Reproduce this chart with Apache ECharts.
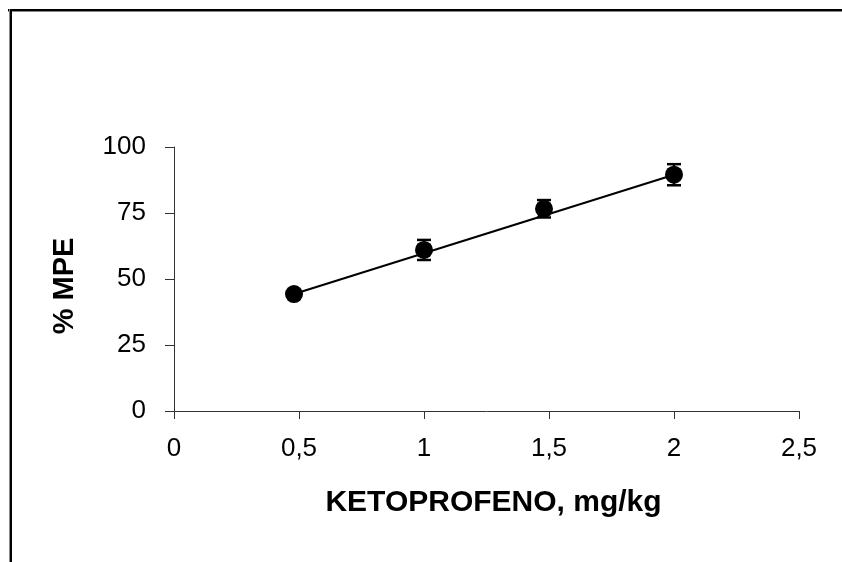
<!DOCTYPE html>
<html>
<head>
<meta charset="utf-8">
<script src="https://cdn.jsdelivr.net/npm/echarts@6/dist/echarts.min.js"></script>
<style>
  html, body { margin: 0; padding: 0; background: #fff; }
  #chart { width: 842px; height: 562px; }
</style>
</head>
<body>
<div id="chart"></div>
<script>
// dose (mg/kg) vs % MPE, mean +/- error
var doses = [0.48, 1, 1.48, 2];
var mpe = [44.3, 61, 76.6, 89.5];
var errs = [0, 3.8, 3.3, 4];
// straight fit line, end points
var fitX = [0.48, 2];
var fitY = [44.3, 89.5];
var xTicks = ['0', '0,5', '1', '1,5', '2', '2,5'];
var yTicks = ['0', '25', '50', '75', '100'];

var font = 'Liberation Sans, Arial, sans-serif';

var chart = echarts.init(document.getElementById('chart'));

var points = doses.map(function (d, i) { return [d, mpe[i]]; });
var fit = fitX.map(function (d, i) { return [d, fitY[i]]; });
var bars = doses.map(function (d, i) { return [d, mpe[i] - errs[i], mpe[i] + errs[i]]; });

var option = {
    backgroundColor: '#fff',
    animation: false,
    grid: { left: 174, right: 43, top: 147, bottom: 151 },
    xAxis: {
        type: 'value',
        min: 0,
        max: 2.5,
        interval: 0.5,
        name: 'KETOPROFENO, mg/kg',
        nameLocation: 'middle',
        nameGap: 77,
        nameTextStyle: { fontFamily: font, fontSize: 30, fontWeight: 'bold', color: '#000', padding: [0, 0, 0, 14] },
        axisLine: { onZero: false, lineStyle: { color: '#333', width: 1 } },
        axisTick: { show: true, length: 8, inside: false, lineStyle: { color: '#333' } },
        axisLabel: {
            margin: 25,
            fontFamily: font,
            fontSize: 26,
            color: '#000',
            formatter: function (v) { return xTicks[Math.round(v / 0.5)]; }
        },
        splitLine: { show: false }
    },
    yAxis: {
        type: 'value',
        min: 0,
        max: 100,
        interval: 25,
        name: '% MPE',
        nameLocation: 'middle',
        nameGap: 95,
        nameTextStyle: { fontFamily: font, fontSize: 29, fontWeight: 'bold', color: '#000', padding: [0, 14, 0, 0] },
        axisLine: { show: true, lineStyle: { color: '#333', width: 1 } },
        axisTick: { show: true, length: 9, inside: false, lineStyle: { color: '#333' } },
        axisLabel: {
            margin: 28,
            fontFamily: font,
            fontSize: 26,
            color: '#000',
            formatter: function (v) { return yTicks[Math.round(v / 25)]; }
        },
        splitLine: { show: false }
    },
    series: [
        {
            type: 'line',
            data: fit,
            symbol: 'none',
            lineStyle: { color: '#000', width: 2 },
            z: 2
        },
        {
            type: 'custom',
            data: bars,
            renderItem: function (params, api) {
                var x = api.value(0);
                var lo = api.coord([x, api.value(1)]);
                var hi = api.coord([x, api.value(2)]);
                var w = 7;
                var st = { stroke: '#000', lineWidth: 2.5 };
                return {
                    type: 'group',
                    children: [
                        { type: 'line', shape: { x1: lo[0], y1: lo[1], x2: hi[0], y2: hi[1] }, style: st },
                        { type: 'line', shape: { x1: lo[0] - w, y1: lo[1], x2: lo[0] + w, y2: lo[1] }, style: st },
                        { type: 'line', shape: { x1: hi[0] - w, y1: hi[1], x2: hi[0] + w, y2: hi[1] }, style: st }
                    ]
                };
            },
            z: 3
        },
        {
            type: 'scatter',
            data: points,
            symbol: 'circle',
            symbolSize: 18,
            itemStyle: { color: '#000', opacity: 1 },
            z: 4
        }
    ],
    graphic: [
        // frame lines on left and top
        { type: 'rect', shape: { x: 8, y: 9, width: 842, height: 3 }, style: { fill: '#888' }, silent: true },
        { type: 'rect', shape: { x: 8, y: 9, width: 842, height: 2 }, style: { fill: '#000' }, silent: true },
        { type: 'rect', shape: { x: 9, y: 9, width: 3, height: 560 }, style: { fill: '#888' }, silent: true },
        { type: 'rect', shape: { x: 10, y: 9, width: 2, height: 560 }, style: { fill: '#000' }, silent: true }
    ]
};

chart.setOption(option);
</script>
</body>
</html>
